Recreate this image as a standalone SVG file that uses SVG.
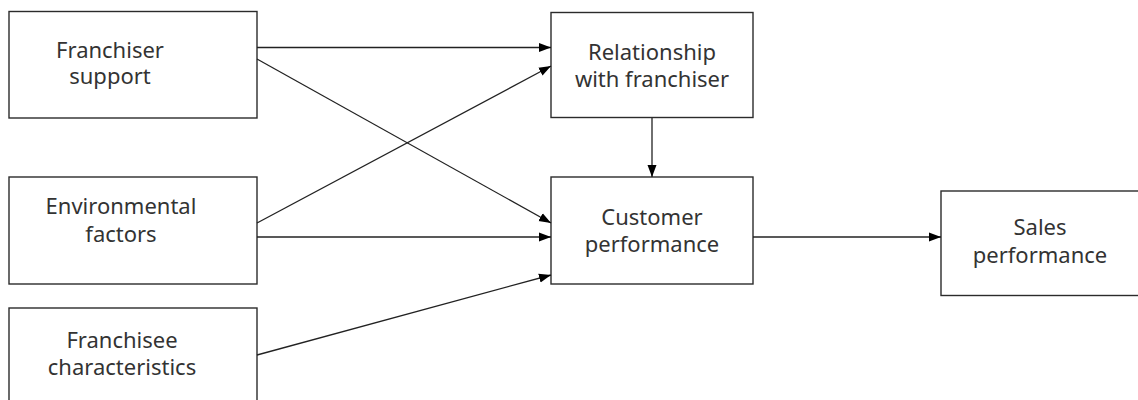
<svg xmlns="http://www.w3.org/2000/svg" width="1138" height="400" viewBox="0 0 1138 400">
<style>
.box{fill:#fff;stroke:#2b2b2b;stroke-width:1.4}
.lbl{font-family:"Noto Sans","Open Sans",sans-serif;font-size:22px;fill:#333;text-anchor:middle}
.edge{stroke:#222;stroke-width:1.3;fill:none;marker-end:url(#ah)}
</style>
<defs>
<marker id="ah" markerWidth="13" markerHeight="10" refX="12" refY="5" orient="auto" markerUnits="userSpaceOnUse">
<path d="M0,0.5 L12,5 L0,9.5 Z" fill="#000"/>
</marker>
</defs>
<rect width="1138" height="400" fill="#fff"/>
<g id="n-franchiser-support">
<rect class="box" x="9" y="11.5" width="248" height="106.5"/>
<text class="lbl" x="110" y="58">Franchiser</text>
<text class="lbl" x="110" y="84">support</text>
</g>
<g id="n-environmental">
<rect class="box" x="9" y="177" width="248" height="107"/>
<text class="lbl" x="121" y="214">Environmental</text>
<text class="lbl" x="121" y="242">factors</text>
</g>
<g id="n-franchisee">
<rect class="box" x="9" y="308" width="248" height="110"/>
<text class="lbl" x="122" y="348">Franchisee</text>
<text class="lbl" x="122" y="375">characteristics</text>
</g>
<g id="n-relationship">
<rect class="box" x="551" y="12.5" width="202" height="105"/>
<text class="lbl" x="652" y="60">Relationship</text>
<text class="lbl" x="652" y="87">with franchiser</text>
</g>
<g id="n-customer">
<rect class="box" x="551" y="177" width="202" height="107"/>
<text class="lbl" x="652" y="225">Customer</text>
<text class="lbl" x="652" y="252">performance</text>
</g>
<g id="n-sales">
<rect class="box" x="941" y="191" width="210" height="104.5"/>
<text class="lbl" x="1040" y="235">Sales</text>
<text class="lbl" x="1040" y="263">performance</text>
</g>
<g id="connectors">
<line class="edge" x1="257" y1="47.5" x2="551" y2="47.5"/>
<line class="edge" x1="257" y1="59" x2="551" y2="223"/>
<line class="edge" x1="257" y1="223" x2="551" y2="66"/>
<line class="edge" x1="257" y1="237" x2="551" y2="237"/>
<line class="edge" x1="257" y1="355" x2="551" y2="275"/>
<line class="edge" x1="652" y1="118" x2="652" y2="177"/>
<line class="edge" x1="753" y1="237" x2="941" y2="237"/>
</g>
</svg>
